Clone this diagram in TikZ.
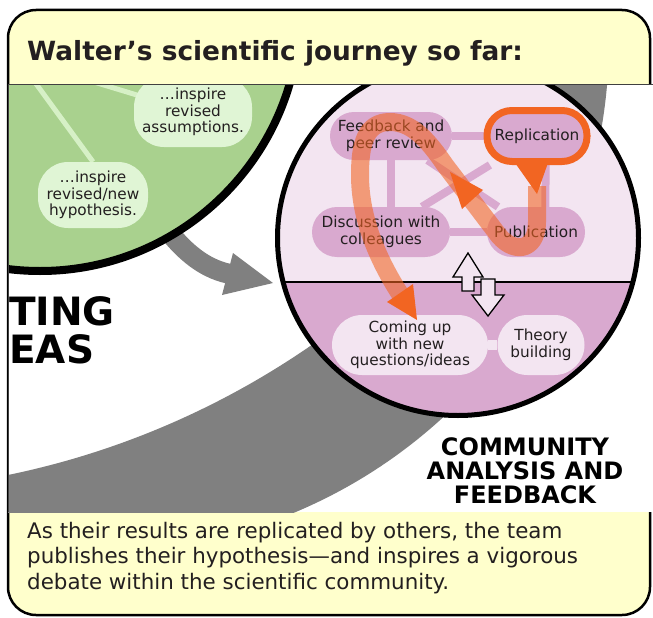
\documentclass[tikz,border=0pt]{standalone}
\usepackage{fontspec}
\setmainfont{DejaVu Sans}
\pgfdeclarelayer{back}
\pgfdeclarelayer{mid}
\pgfsetlayers{back,mid,main}
\definecolor{yel}{HTML}{FFFFCC}
\definecolor{grn}{HTML}{A9D18E}
\definecolor{grnlt}{HTML}{E0F5D5}
\definecolor{grnline}{HTML}{D6F0C6}
\definecolor{pklt}{HTML}{F3E5F1}
\definecolor{pkmd}{HTML}{D9A9CF}
\definecolor{org}{HTML}{F26522}
\definecolor{gry}{HTML}{808080}
\definecolor{txt}{HTML}{231F20}
\tikzset{
  lbl/.style={font=\fontsize{15.3}{16.5}\selectfont, text=txt, align=center, inner sep=0pt},
  pmd/.style={lbl, fill=pkmd},
  plt/.style={lbl, fill=pklt},
  gbub/.style={lbl, fill=grnlt, rounded corners=30pt},
  pkline/.style={draw=pkmd, line width=8pt},
  gline/.style={draw=grnline, line width=5pt},
  obar/.style={draw=org, opacity=0.58, line width=18pt, line join=round},
  ohead/.style={fill=org},
  hollow/.style={fill=pklt, draw=black, line width=1.3pt, line join=miter},
  bigcap/.style={font=\fontsize{24}{24}\selectfont\bfseries, text=black, align=center, inner sep=0pt},
  hugecap/.style={font=\fontsize{39}{39}\selectfont\bfseries, text=black, inner sep=0pt},
  rimline/.style={draw=black!75, line width=1pt},
}
\begin{document}
\begin{tikzpicture}[x=1pt,y=-1pt]
\useasboundingbox (0,0) rectangle (653,618);
\begin{pgfonlayer}{back}
  \draw[line width=2.5pt, fill=yel, rounded corners=28pt] (8,10) rectangle (650,615);
  \begin{scope}
    \clip (8,84) rectangle (653,512);
    \fill[white] (8,84) rectangle (653,512);
    \begin{scope}
      \clip (97,40) circle [radius=512];
      \fill[gry, even odd rule] (-100,-100) rectangle (700,700) (-160,-338) circle [radius=830];
    \end{scope}
    \coordinate (gs) at (150,205);
    \coordinate (ge) at (230,274);
    \coordinate (gt) at (273,283);
    \draw[gry, line width=20pt] (gs) .. controls (175,245) and (200,268) .. (ge);
    \fill[gry] (233,253) -- (gt) -- (222,295) -- cycle;
    \draw[line width=8pt, fill=grn] (40,11) circle [radius=260];
    \begin{scope}
      \clip (458,238) ellipse [x radius=180.5, y radius=177.5];
      \fill[pklt] (270,50) rectangle (650,282);
      \fill[pkmd] (270,282) rectangle (650,430);
      \draw[line width=1.2pt] (270,282) -- (650,282);
    \end{scope}
    \draw[line width=5pt] (458,238) ellipse [x radius=180.5, y radius=177.5];
  \end{scope}
\end{pgfonlayer}

\node[anchor=base west, inner sep=0pt, font=\fontsize{26.4}{26.4}\selectfont\bfseries, text=txt] (title) at (27,61) {Walter’s scientific journey so far:};
\node[anchor=north west, inner sep=0pt, align=left, font=\fontsize{21.4}{25.5}\selectfont, text=txt] (cap) at (27,522) {As their results are replicated by others, the team\\publishes their hypothesis—and inspires a vigorous\\debate within the scientific community.};

\begin{scope}
  \clip (8,84) rectangle (653,512);
  \coordinate (hub) at (18,59);
  \node[gbub, minimum width=118pt, minimum height=70pt] (assum) at (193,112) {…inspire\\revised\\assumptions.};
  \node[gbub, minimum width=110pt, minimum height=66pt] (hypo) at (93,195) {…inspire\\revised/new\\hypothesis.};
  \node[hugecap, anchor=base west] (ting) at (9,325) {TING};
  \node[hugecap, anchor=base west] (eas) at (9,363) {EAS};
  \node[bigcap, anchor=north] (cafb) at (525,437) {COMMUNITY\\ANALYSIS AND\\FEEDBACK};
\end{scope}

\node[pmd, rounded corners=24pt, minimum width=122pt, minimum height=48pt] (fb) at (391,136) {Feedback and\\peer review};
\node[pmd, draw=org, line width=7pt, rounded corners=25pt, minimum width=100pt, minimum height=51pt] (rep) at (537,136) {Replication};
\node[pmd, rounded corners=25pt, minimum width=138pt, minimum height=50pt] (disc) at (381,232) {Discussion with\\colleagues};
\node[pmd, rounded corners=25pt, minimum width=98pt, minimum height=50pt] (pub) at (536,232) {Publication};
\node[plt, rounded corners=30pt, minimum width=156pt, minimum height=60pt] (come) at (410,345) {Coming up\\with new\\questions/ideas};
\node[plt, rounded corners=30pt, minimum width=87pt, minimum height=60pt] (theory) at (541,345) {Theory\\building};

\begin{pgfonlayer}{mid}
  \begin{scope}
    \clip (8,84) rectangle (653,512);
    \draw[gline] (hub) -- (hypo.north);
    \draw[gline] (hub) -- (assum.center);
  \end{scope}
  \draw[pkline] (fb) -- (rep);
  \draw[pkline] (fb.center) -- (fb.center |- disc.center);
  \draw[pkline] (disc) -- (pub);
  \draw[pkline] (disc) -- (rep);
  \draw[pkline] (fb) -- (pub);
  \draw[pkline] ([xshift=9pt]rep.center) -- ([xshift=9pt]pub.center);
  \draw[draw=pklt, line width=10pt] (come) -- (theory);
\end{pgfonlayer}

% orange route
\draw[obar] (537,186) -- (537,222) .. controls (537,252) and (512,255) .. (496,232) -- (445,165) .. controls (428,140) and (412,122) .. (390,122) .. controls (365,122) and (360,145) .. (360,175) .. controls (360,215) and (375,255) .. (400,294);
\fill[ohead] (513,160) -- (549,160) -- (537,194) -- cycle;
\fill[ohead] (450,172) -- (483,190) -- (462,209) -- cycle;
\fill[ohead] (387,302) -- (413,284) -- (417,320) -- cycle;

% double hollow arrows
\draw[hollow] (468,253) -- (483,277) -- (474,277) -- (474,291) -- (462,291) -- (462,277) -- (453,277) -- cycle;
\draw[hollow] (488,316) -- (504,295) -- (495,295) -- (495,279) -- (481,279) -- (481,295) -- (472,295) -- cycle;

\draw[rimline] (8,84) -- (653,84);
\draw[rimline] (8,84) -- (8,512);
\end{tikzpicture}
\end{document}
